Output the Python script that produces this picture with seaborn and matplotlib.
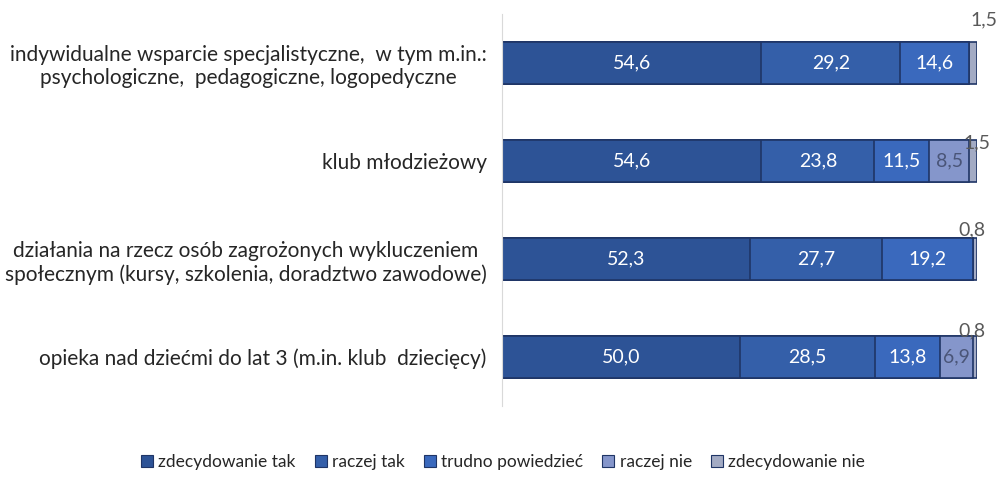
import matplotlib
matplotlib.use("Agg")
import matplotlib.pyplot as plt
import matplotlib.patches as mpatches
import seaborn as sns
import pandas as pd
import numpy as np

categories = [
    "indywidualne wsparcie specjalistyczne,  w tym m.in.:\npsychologiczne,  pedagogiczne, logopedyczne",
    "klub młodzieżowy",
    "działania na rzecz osób zagrożonych wykluczeniem\nspołecznym (kursy, szkolenia, doradztwo zawodowe)",
    "opieka nad dziećmi do lat 3 (m.in. klub  dziecięcy)",
]
series = ["zdecydowanie tak", "raczej tak", "trudno powiedzieć", "raczej nie", "zdecydowanie nie"]
zdecydowanie_tak = [54.6, 54.6, 52.3, 50.0]
raczej_tak = [29.2, 23.8, 27.7, 28.5]
trudno_powiedziec = [14.6, 11.5, 19.2, 13.8]
raczej_nie = [0.0, 8.5, 0.0, 6.9]
zdecydowanie_nie = [1.5, 1.5, 0.8, 0.8]

colors = ["#2d5396", "#345fa9", "#3a69bd", "#8596cb", "#a3abc4"]
label_colors = ["white", "white", "white", "#4a5578", "#595959"]
# small segments get their label above the bar (offsets in points)
outside_dx = [5, 0, -4, -4]
outside_dy = [31, 13, 21, 19]

df = pd.DataFrame({"kategoria": categories,
                   series[0]: zdecydowanie_tak, series[1]: raczej_tak,
                   series[2]: trudno_powiedziec, series[3]: raczej_nie,
                   series[4]: zdecydowanie_nie})
vals = df[series].to_numpy()
cum = np.cumsum(vals, axis=1)

sns.set_style("white")
plt.rcParams["font.family"] = ["Lato", "DejaVu Sans"]

fig = plt.figure(figsize=(9.96, 4.79), dpi=100)
ax = fig.add_axes([0.504, 0.152, 0.477, 0.819])

# stacked bars: draw cumulative totals from the last series to the first
for j in range(len(series) - 1, -1, -1):
    tmp = pd.DataFrame({"kategoria": categories, "v": cum[:, j]})
    sns.barplot(data=tmp, y="kategoria", x="v", orient="h", color=colors[j],
                edgecolor="#1f3566", linewidth=1.2, width=0.43, ax=ax,
                saturation=1)

for i in range(len(categories)):
    for j in range(len(series)):
        v = vals[i, j]
        if v <= 0:
            continue
        txt = f"{v:.1f}".replace(".", ",")
        if v < 2:
            ax.annotate(txt, xy=(cum[i, j], i), xytext=(outside_dx[i], outside_dy[i]),
                        textcoords="offset points", ha="center", va="center",
                        fontsize=14, color=label_colors[4])
        else:
            ax.text(cum[i, j] - v / 2, i, txt, ha="center", va="center",
                    fontsize=14, color=label_colors[j])

ax.set_xlim(0, 100)
ax.set_ylim(3.5, -0.5)
ax.set_xlabel("")
ax.set_ylabel("")
ax.set_xticks([])
for s in ["top", "right", "bottom"]:
    ax.spines[s].set_visible(False)
ax.spines["left"].set_color("#d9d9d9")
ax.tick_params(axis="y", length=0, pad=11)
for lab in ax.get_yticklabels():
    lab.set_fontsize(15)
    lab.set_color("#262626")
    lab.set_multialignment("center")

handles = [mpatches.Patch(facecolor=c, edgecolor="#1f3566", linewidth=0.8) for c in colors]
fig.legend(handles, series, loc="center", bbox_to_anchor=(0.505, 0.035), ncol=5,
           frameon=False, fontsize=12.5, handlelength=0.7, handleheight=0.7,
           handletextpad=0.3, columnspacing=1.1, labelcolor="#262626")

fig.savefig("out.png", dpi=100)
